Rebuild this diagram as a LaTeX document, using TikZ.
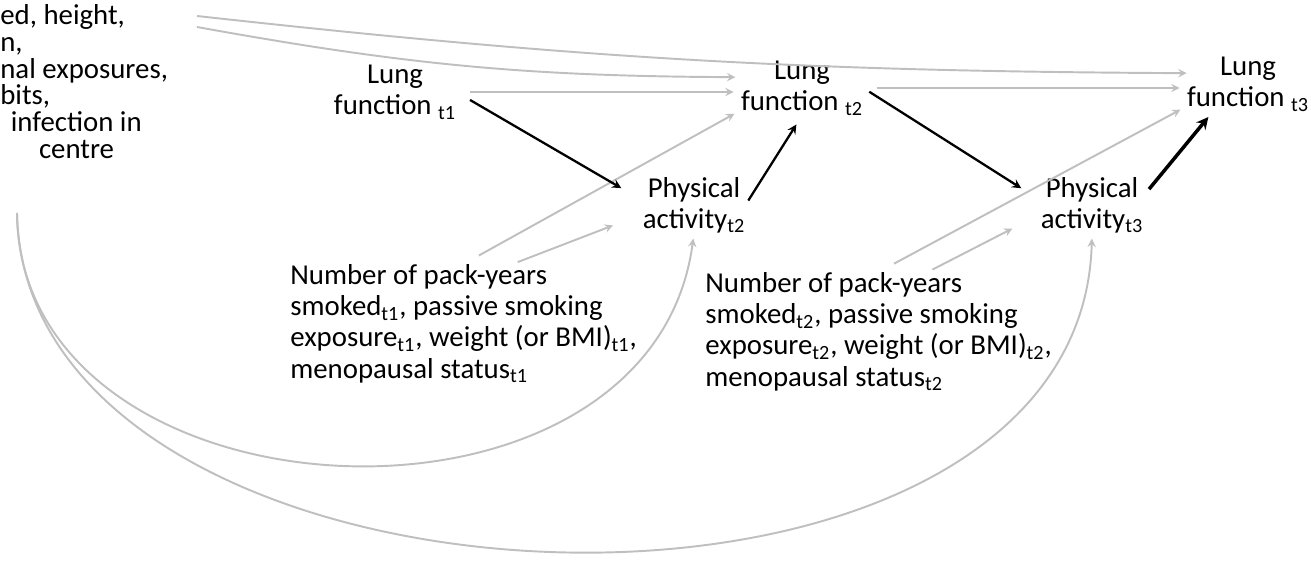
\documentclass[tikz,border=0pt]{standalone}
\usepackage{fontspec}
\setmainfont{Carlito}
\usetikzlibrary{arrows, positioning}
\definecolor{lightgrey}{RGB}{191,191,191}
\tikzset{>=stealth}

\begin{document}
\begin{tikzpicture}[x=0.02cm, y=-0.02cm, >=stealth,
    lbl/.style={font=\fontsize{16.4}{17.8}\selectfont, align=center, inner sep=0pt},
    cov/.style={font=\fontsize{16.4}{17.8}\selectfont, align=left, inner sep=0pt, anchor=north west},
    grey/.style={draw=lightgrey, line width=1.1pt, ->},
    causal/.style={draw=black, line width=1.3pt, ->}]
  \useasboundingbox (0,0) rectangle (1311,580);

  \node (base) at (0,4)[cov, font=\fontsize{16.4}{15.3}\selectfont]
    {ed, height,\\ n,\\ nal exposures,\\ bits,\\ \hspace*{6pt}infection in\\ \hspace*{22pt}centre};
  \node (lung1) at (395,92)[lbl] {Lung\\ function \textsubscript{t1}};
  \node (lung2) at (802,88)[lbl] {Lung\\ function \textsubscript{t2}};
  \node (lung3) at (1248,84)[lbl] {Lung\\ function \textsubscript{t3}};
  \node (pa2) at (694,205)[lbl] {Physical\\ activity\textsubscript{t2}};
  \node (pa3) at (1092,205)[lbl] {Physical\\ activity\textsubscript{t3}};
  \node (smk1) at (290,264)[cov]
    {Number of pack-years\\ smoked\textsubscript{t1}, passive smoking\\
     exposure\textsubscript{t1}, weight (or BMI)\textsubscript{t1},\\ menopausal status\textsubscript{t1}};
  \node (smk2) at (705,272)[cov]
    {Number of pack-years\\ smoked\textsubscript{t2}, passive smoking\\
     exposure\textsubscript{t2}, weight (or BMI)\textsubscript{t2},\\ menopausal status\textsubscript{t2}};

  % baseline covariates
  \coordinate (b1) at (197,16);
  \coordinate (b2) at (197,27);
  \coordinate (b3) at (17,213);
  \draw[grey] (b1) to[bend right=3] (lung3.170);
  \draw[grey, shorten >=3pt] (b2) to[bend right=5] (lung2.170);
  \draw[grey, shorten >=3pt] (b3) .. controls (20,530) and (650,560) .. (pa2.south);
  \draw[grey, shorten >=3pt] (b3) .. controls (25,640) and (1080,680) .. (pa3.south);

  % time-varying
  \draw[grey, shorten <=8pt, shorten >=4pt] (lung1.east) -- (lung2.west |- lung1.east);
  \draw[grey, shorten <=8pt, shorten >=4pt] (lung2.east) -- (lung3.west |- lung2.east);
  \draw[grey, shorten <=10pt, shorten >=4pt] (smk1.north) -- (lung2.200);
  \draw[grey, shorten <=3pt, shorten >=18pt] ([xshift=28pt]smk1.north) -- (pa2.190);
  \draw[grey, shorten <=10pt, shorten >=4pt] (smk2.north) -- (lung3.200);
  \draw[grey, shorten <=3pt, shorten >=18pt] ([xshift=28pt]smk2.north) -- (pa3.190);

  \draw[causal, shorten <=9pt, shorten >=14pt] (lung1.east) -- (pa2.175);
  \draw[causal, shorten <=3pt, shorten >=6pt] (pa2.east) -- (lung2.south);
  \draw[causal, shorten <=4pt, shorten >=13pt] (lung2.east) -- (pa3.175);
  \draw[causal, line width=2pt, shorten <=5pt, shorten >=4pt] (pa3.10) -- ([xshift=-20pt]lung3.south);
\end{tikzpicture}
\end{document}
